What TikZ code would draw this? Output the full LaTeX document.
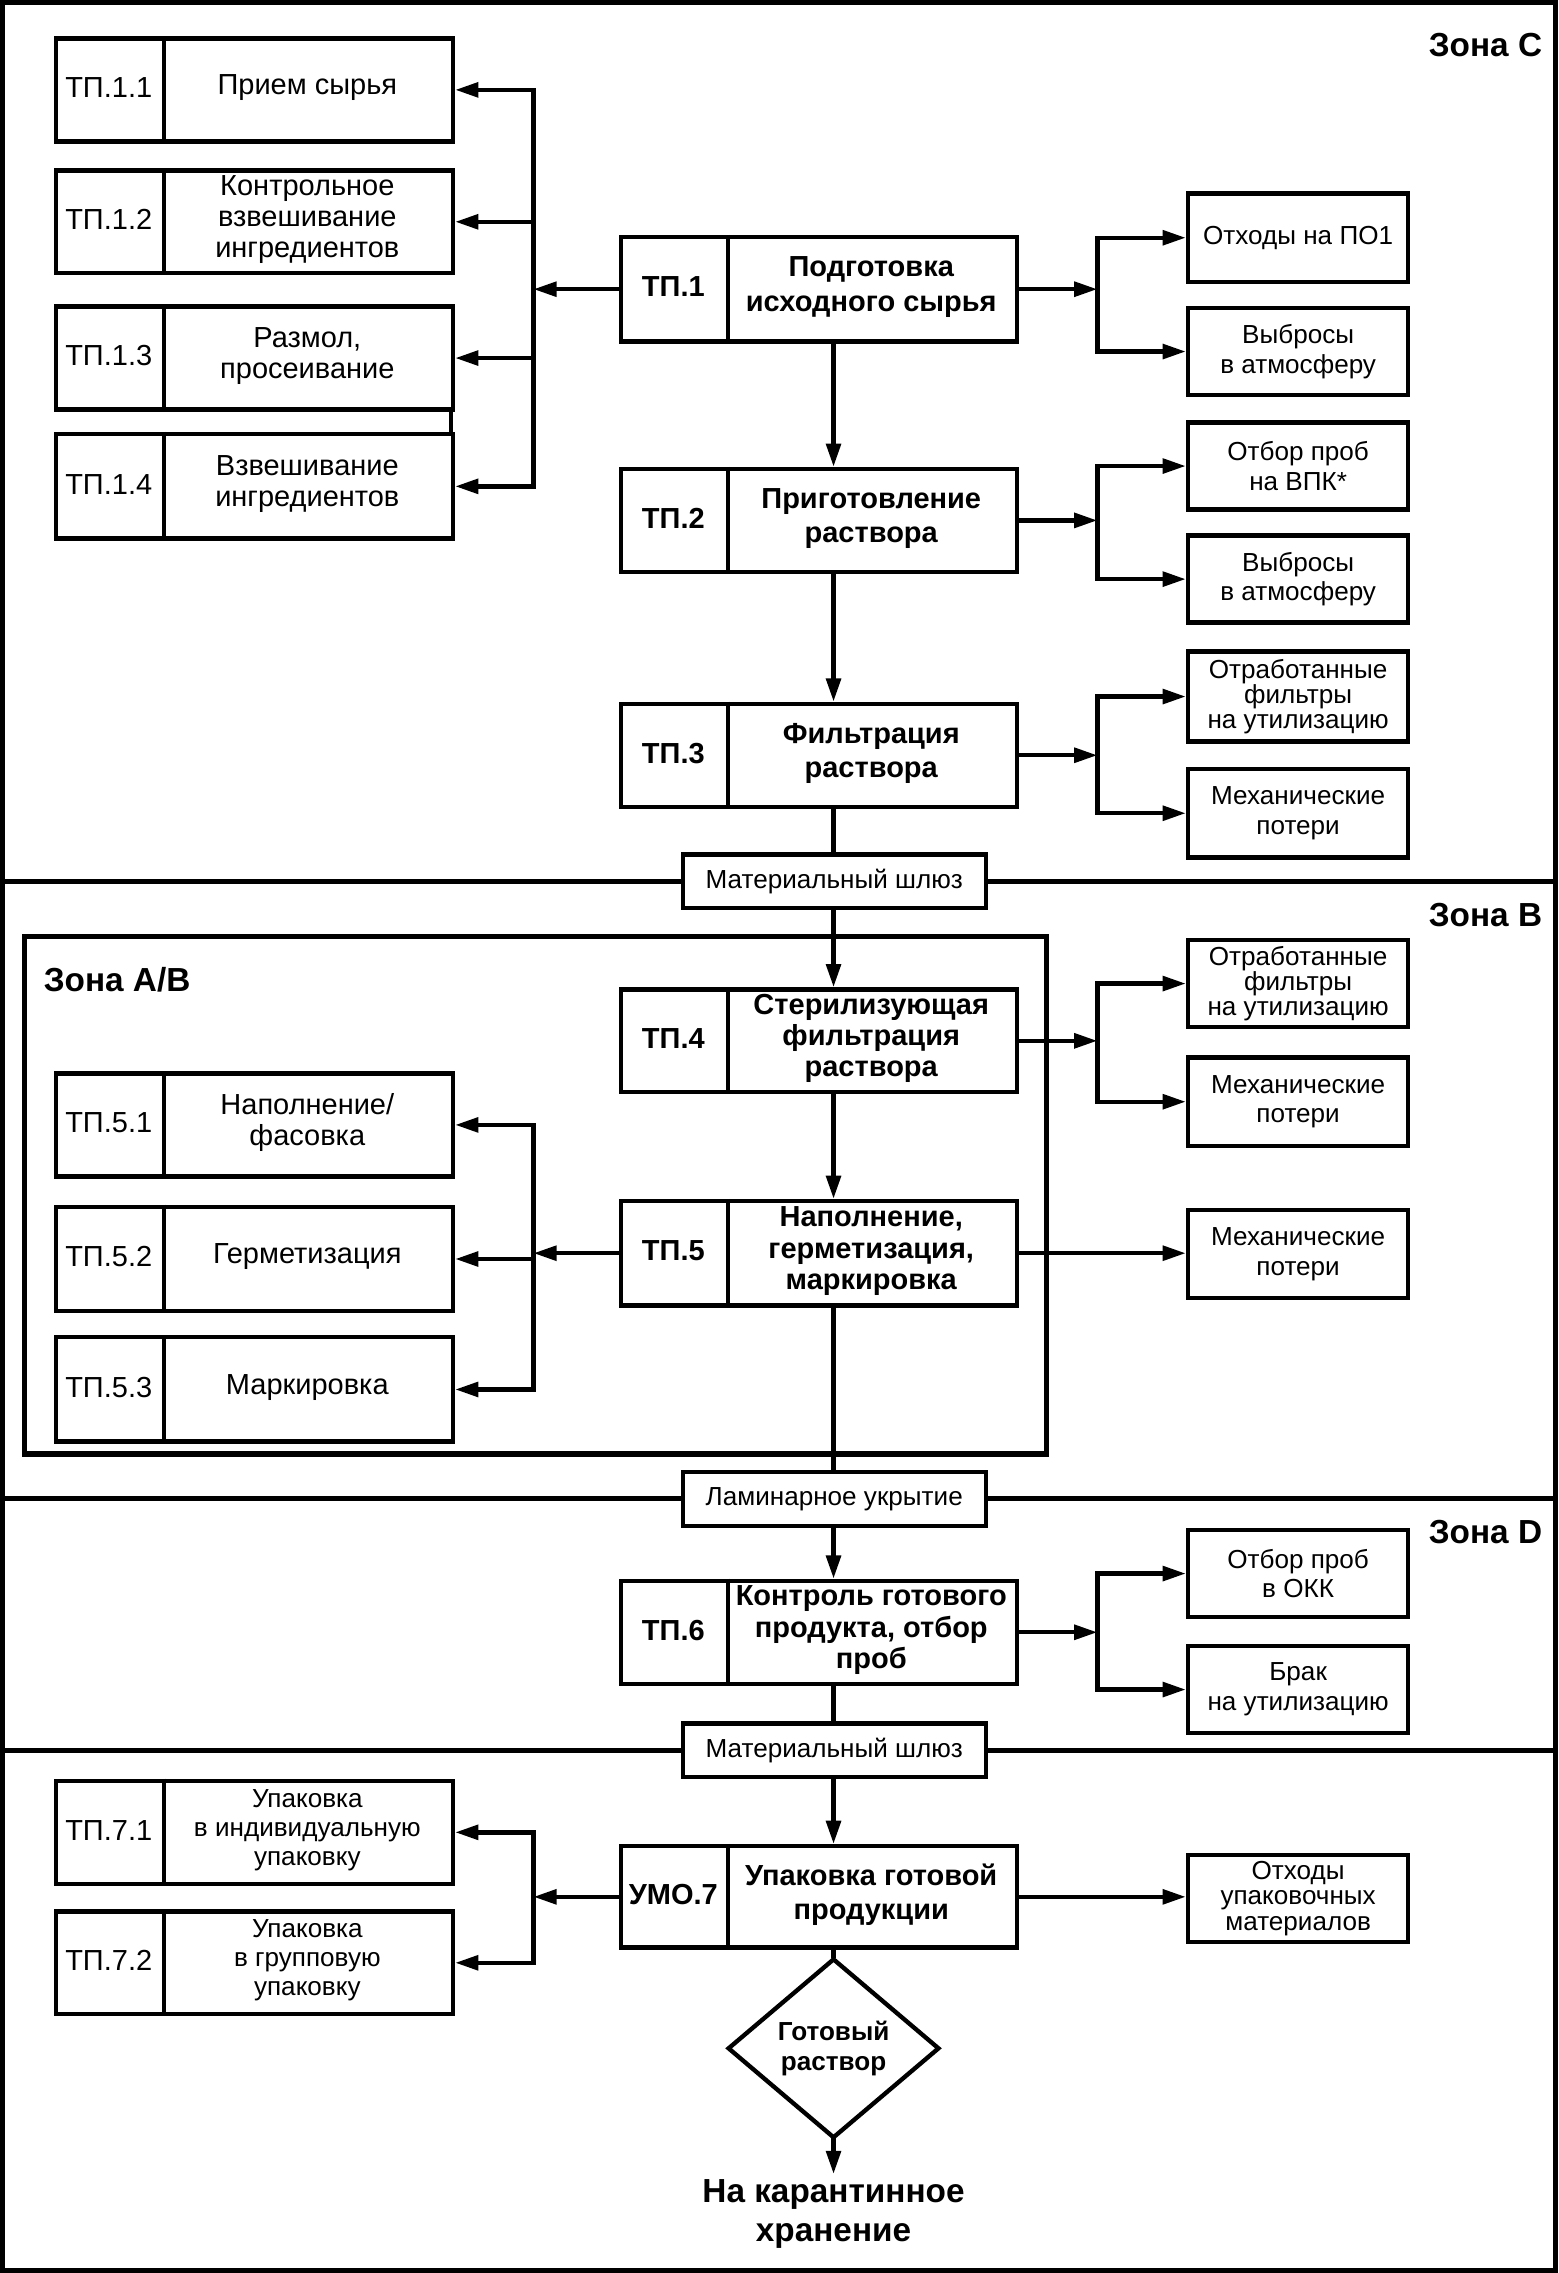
\documentclass[tikz,border=0pt]{standalone}
\usepackage{fontspec}
\setmainfont{Liberation Sans}
\usetikzlibrary{arrows.meta,shapes.geometric}
\tikzset{
  bx/.style={draw, line width=3pt, inner sep=0pt, fill=white},
  idl/.style={font=\fontsize{20}{21.5}\selectfont, inner sep=0pt},
  idb/.style={font=\bfseries\fontsize{20}{23}\selectfont, inner sep=0pt},
  lbl/.style={font=\fontsize{20}{21.5}\selectfont, align=center, inner sep=0pt},
  lbls/.style={font=\fontsize{18}{20}\selectfont, align=center, inner sep=0pt},
  lblb/.style={font=\bfseries\fontsize{20}{23.5}\selectfont, align=center, inner sep=0pt},
  lblbt/.style={font=\bfseries\fontsize{20}{21.5}\selectfont, align=center, inner sep=0pt},
  rt/.style={font=\fontsize{18}{20.5}\selectfont, align=center},
  rtt/.style={font=\fontsize{18}{17.5}\selectfont, align=center},
  gate/.style={bx, minimum width=209pt, minimum height=37pt, font=\fontsize{18}{20}\selectfont},
  zonelab/.style={font=\bfseries\fontsize{23}{26}\selectfont, inner sep=0pt},
  conn/.style={line width=3pt, line cap=rect},
  arr/.style={conn, -{Triangle[length=16pt,width=10pt]}},
  zline/.style={line width=3.5pt},
}
\newcommand\lbox[6]{%
  \node[bx, minimum width=274pt, minimum height={(#3-#2)*1pt}, anchor=north west] (#1) at (37,#2) {};
  \draw[line width=3pt] (113,#2) -- (113,#3);
  \node[idl] (#1id) at (75,{(#2+#3)/2}) {#4};
  \node[#6] (#1tx) at (212,{(#2+#3)/2}) {#5};
}
\newcommand\cbox[6]{%
  \node[bx, minimum width=273pt, minimum height={(#3-#2)*1pt}, anchor=north west] (#1) at (427,#2) {};
  \draw[line width=3pt] (502,#2) -- (502,#3);
  \node[idb] (#1id) at (464.5,{(#2+#3)/2}) {#4};
  \node[#6] (#1tx) at (601,{(#2+#3)/2}) {#5};
}
\newcommand\rbox[5]{%
  \node[bx, minimum width=152pt, minimum height={(#3-#2)*1pt}, anchor=north west, #5] (#1) at (818,#2) {#4};
}
\begin{document}
\begin{tikzpicture}[x=1pt,y=-1pt]
\useasboundingbox (0,0) rectangle (1075,1568);
% outer frame
\draw[zline] (2,2) rectangle (1073,1566);
\coordinate (fl) at (2,0);
\coordinate (fr) at (1073,0);
\coordinate (sp) at (575,0);
\coordinate (lbx) at (368,0);
\coordinate (rbx) at (757,0);

% zone separators (gates drawn over them)
\draw[zline] (fl |- 0,608) -- (fr |- 0,608);
\draw[zline] (fl |- 0,1034) -- (fr |- 0,1034);
\draw[zline] (fl |- 0,1207.5) -- (fr |- 0,1207.5);

% zone A/B frame
\draw[zline] (17,646) rectangle (722,1003);

% zone labels
\node[zonelab, anchor=east] (zc) at (1064,31) {Зона C};
\node[zonelab, anchor=east] (zb) at (1064,631) {Зона B};
\node[zonelab, anchor=east] (zd) at (1064,1057) {Зона D};
\node[zonelab, anchor=west] (zab) at (30,676) {Зона A/B};

% left boxes TP.1.x
\lbox{t11}{25}{96}{ТП.1.1}{Прием сырья}{lbl}
\lbox{t12}{116}{187}{ТП.1.2}{Контрольное\\взвешивание\\ингредиентов}{lbl}
\lbox{t13}{210}{281}{ТП.1.3}{Размол,\\просеивание}{lbl}
\lbox{t14}{298}{370}{ТП.1.4}{Взвешивание\\ингредиентов}{lbl}
\draw[line width=3pt] (311,281) -- (311,298);

% left boxes TP.5.x
\lbox{t51}{739}{810}{ТП.5.1}{Наполнение/\\фасовка}{lbl}
\lbox{t52}{831}{903}{ТП.5.2}{Герметизация}{lbl}
\lbox{t53}{921}{993}{ТП.5.3}{Маркировка}{lbl}

% left boxes TP.7.x
\lbox{t71}{1227}{1298}{ТП.7.1}{Упаковка\\в индивидуальную\\упаковку}{lbls}
\lbox{t72}{1317}{1388}{ТП.7.2}{Упаковка\\в групповую\\упаковку}{lbls}

% central boxes
\cbox{t1}{162}{234}{ТП.1}{Подготовка\\исходного сырья}{lblb}
\cbox{t2}{322}{393}{ТП.2}{Приготовление\\раствора}{lblb}
\cbox{t3}{484}{555}{ТП.3}{Фильтрация\\раствора}{lblb}
\cbox{t4}{681}{752}{ТП.4}{Стерилизующая\\фильтрация\\раствора}{lblbt}
\cbox{t5}{827}{899}{ТП.5}{Наполнение,\\герметизация,\\маркировка}{lblbt}
\cbox{t6}{1089}{1160}{ТП.6}{Контроль готового\\продукта, отбор\\проб}{lblbt}
\cbox{t7}{1272}{1342}{УМО.7}{Упаковка готовой\\продукции}{lblb}

% gates
\node[gate] (g1) at (575.5,608) {Материальный шлюз};
\node[gate] (g2) at (575.5,1034) {Ламинарное укрытие};
\node[gate] (g3) at (575.5,1207.5) {Материальный шлюз};

% right boxes
\rbox{r11}{132}{193}{Отходы на ПО1}{rt}
\rbox{r12}{211}{271}{Выбросы\\в атмосферу}{rt}
\rbox{r21}{290}{350}{Отбор проб\\на ВПК*}{rt}
\rbox{r22}{368}{428}{Выбросы\\в атмосферу}{rt}
\rbox{r31}{448}{510}{Отработанные\\фильтры\\на утилизацию}{rtt}
\rbox{r32}{529}{590}{Механические\\потери}{rt}
\rbox{r41}{647}{707}{Отработанные\\фильтры\\на утилизацию}{rtt}
\rbox{r42}{728}{789}{Механические\\потери}{rt}
\rbox{r5}{833}{894}{Механические\\потери}{rt}
\rbox{r61}{1054}{1114}{Отбор проб\\в ОКК}{rt}
\rbox{r62}{1134}{1194}{Брак\\на утилизацию}{rt}
\rbox{r7}{1278}{1338}{Отходы\\упаковочных\\материалов}{rtt}

% diamond and final text
\node[draw, diamond, line width=3pt, minimum width=146pt, minimum height=124pt,
      inner sep=0pt, aspect=1.18, fill=white,
      font=\bfseries\fontsize{18}{21}\selectfont, align=center] (dm) at (575,1413) {Готовый\\раствор};
\node[font=\bfseries\fontsize{23}{27}\selectfont, align=center] (fin) at (575,1527) {На карантинное\\хранение};

% spine
\draw[arr] (t1.south -| sp) -- (t2.north -| sp);
\draw[arr] (t2.south -| sp) -- (t3.north -| sp);
\draw[conn] (t3.south -| sp) -- (g1.north -| sp);
\draw[arr] (g1.south -| sp) -- (t4.north -| sp);
\draw[arr] (t4.south -| sp) -- (t5.north -| sp);
\draw[conn] (t5.south -| sp) -- (g2.north -| sp);
\draw[arr] (g2.south -| sp) -- (t6.north -| sp);
\draw[conn] (t6.south -| sp) -- (g3.north -| sp);
\draw[arr] (g3.south -| sp) -- (t7.north -| sp);
\draw[conn] (t7.south -| sp) -- (dm.north);
\draw[arr] (dm.south) -- (fin.north);

% left forks
\draw[arr] (t1.west) -- (t1.west -| lbx);
\draw[conn] (t11.east -| lbx) -- (t14.east -| lbx);
\foreach \n in {t11,t12,t13,t14} \draw[arr] (\n.east -| lbx) -- (\n.east);

\draw[arr] (t5.west) -- (t5.west -| lbx);
\draw[conn] (t51.east -| lbx) -- (t53.east -| lbx);
\foreach \n in {t51,t52,t53} \draw[arr] (\n.east -| lbx) -- (\n.east);

\draw[arr] (t7.west) -- (t7.west -| lbx);
\draw[conn] (t71.east -| lbx) -- (t72.east -| lbx);
\foreach \n in {t71,t72} \draw[arr] (\n.east -| lbx) -- (\n.east);

% right forks
\draw[arr] (t1.east) -- (t1.east -| rbx);
\draw[conn] (r11.west -| rbx) -- (r12.west -| rbx);
\foreach \n in {r11,r12} \draw[arr] (\n.west -| rbx) -- (\n.west);

\draw[arr] (t2.east) -- (t2.east -| rbx);
\draw[conn] (r21.west -| rbx) -- (r22.west -| rbx);
\foreach \n in {r21,r22} \draw[arr] (\n.west -| rbx) -- (\n.west);

\draw[arr] (t3.east) -- (t3.east -| rbx);
\draw[conn] (r31.west -| rbx) -- (r32.west -| rbx);
\foreach \n in {r31,r32} \draw[arr] (\n.west -| rbx) -- (\n.west);

\draw[arr] (t4.east) -- (t4.east -| rbx);
\draw[conn] (r41.west -| rbx) -- (r42.west -| rbx);
\foreach \n in {r41,r42} \draw[arr] (\n.west -| rbx) -- (\n.west);

\draw[arr] (t5.east) -- (t5.east -| r5.west);

\draw[arr] (t6.east) -- (t6.east -| rbx);
\draw[conn] (r61.west -| rbx) -- (r62.west -| rbx);
\foreach \n in {r61,r62} \draw[arr] (\n.west -| rbx) -- (\n.west);

\draw[arr] (t7.east) -- (t7.east -| r7.west);
\end{tikzpicture}
\end{document}
